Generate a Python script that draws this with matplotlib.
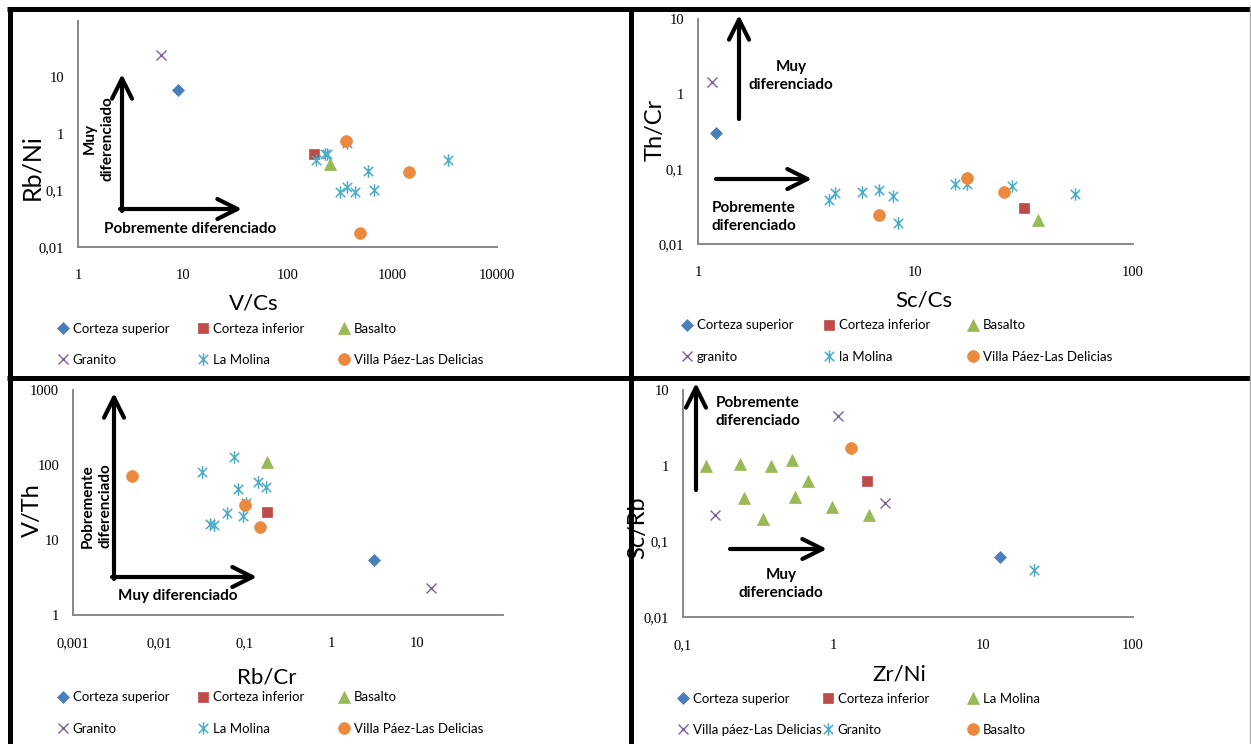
import numpy as np
import matplotlib
matplotlib.use('Agg')
from matplotlib import pyplot as plt
from matplotlib.path import Path
from matplotlib.lines import Line2D
from matplotlib.patches import FancyArrowPatch

W, H = 1251, 744

####
# Data
####
# panel 1 : V/Cs vs Rb/Ni
vcs = {'sup': [9.0], 'inf': [181], 'bas': [257], 'gra': [6.2],
       'mol': [188, 226, 240, 373, 593, 314, 373, 443, 665, 3400],
       'vil': [363, 1450, 494]}
rbni = {'sup': [6.0], 'inf': [0.45], 'bas': [0.30], 'gra': [25],
        'mol': [0.34, 0.45, 0.45, 0.69, 0.22, 0.096, 0.117, 0.096, 0.104, 0.34],
        'vil': [0.75, 0.21, 0.018]}

# panel 2 : Sc/Cs vs Th/Cr
sccs = {'sup': [1.21], 'inf': [31.7], 'bas': [36.7], 'gra': [1.16],
        'mol': [4.0, 4.27, 5.7, 6.8, 7.85, 8.3, 15.2, 17.3, 27.7, 54],
        'vil': [17.3, 25.6, 6.8]}
thcr = {'sup': [0.30], 'inf': [0.0306], 'bas': [0.021], 'gra': [1.46],
        'mol': [0.039, 0.048, 0.049, 0.052, 0.043, 0.019, 0.063, 0.063, 0.060, 0.046],
        'vil': [0.077, 0.049, 0.024]}

# panel 3 : Rb/Cr vs V/Th
rbcr = {'sup': [3.14], 'inf': [0.18], 'bas': [0.18], 'gra': [14.7],
        'mol': [0.0316, 0.074, 0.083, 0.142, 0.177, 0.102, 0.061, 0.095, 0.039, 0.044],
        'vil': [0.0048, 0.099, 0.148]}
vth = {'sup': [5.4], 'inf': [23.5], 'bas': [110], 'gra': [2.3],
       'mol': [81, 126, 48, 59, 51, 31, 22.8, 21, 16.4, 16],
       'vil': [72, 29, 15]}

# panel 4 : Zr/Ni vs Sc/Rb  (series keyed by marker style)
zrni = {'sup': [12.9], 'inf': [1.69],
        'tri': [0.143, 0.239, 0.388, 0.53, 0.686, 0.257, 0.558, 0.343, 0.99, 1.73],
        'x': [1.08, 2.21, 0.164], 'ast': [21.8], 'o': [1.32]}
scrb = {'sup': [0.062], 'inf': [0.635],
        'tri': [1.0, 1.06, 0.98, 1.19, 0.62, 0.376, 0.39, 0.20, 0.283, 0.226],
        'x': [4.5, 0.32, 0.22], 'ast': [0.0415], 'o': [1.7]}

labels_1 = ['Corteza superior', 'Corteza inferior', 'Basalto',
            'Granito', 'La Molina', 'Villa Páez-Las Delicias']
labels_2 = ['Corteza superior', 'Corteza inferior', 'Basalto',
            'granito', 'la Molina', 'Villa Páez-Las Delicias']
labels_4 = ['Corteza superior', 'Corteza inferior', 'La Molina',
            'Villa páez-Las Delicias', 'Granito', 'Basalto']

####
# Styles
####
star = Path([(0, 1), (0, -1), (-0.75, 0.75), (0.75, -0.75), (-0.75, -0.75), (0.75, 0.75)],
            [Path.MOVETO, Path.LINETO] * 3)
styles = [dict(marker='D', color='#4A7EBB', ms=6.0),
          dict(marker='s', color='#BE4B48', ms=7.8),
          dict(marker='^', color='#98B954', ms=9.0),
          dict(marker='x', color='#7D60A0', ms=7.5, mew=1.0),
          dict(marker=star, color='#4BACC6', ms=9, mew=1.1),
          dict(marker='o', color='#EB8A3E', ms=8.5)]

plt.rcParams['font.family'] = ['Lato', 'DejaVu Sans']
tick_font = dict(family='Liberation Serif', size=10.5)

fig = plt.figure(figsize=(W / 100, H / 100), dpi=100)


def px(x, y):
    return (x / W, 1 - y / H)


def make_axes(l, r, t, b):
    ax = fig.add_axes([l / W, 1 - b / H, (r - l) / W, (b - t) / H])
    ax.set_xscale('log')
    ax.set_yscale('log')
    for s in ['top', 'right']:
        ax.spines[s].set_visible(False)
    for s in ['left', 'bottom']:
        ax.spines[s].set_color('#888888')
        ax.spines[s].set_linewidth(1.4)
    ax.tick_params(length=0, which='both')
    ax.tick_params(axis='x', pad=16)
    ax.tick_params(axis='y', pad=10)
    ax.minorticks_off()
    ax.patch.set_alpha(0)
    return ax


def set_ticks(ax, xt, xl, yt, yl):
    ax.set_xticks(xt)
    ax.set_xticklabels(xl, fontdict=tick_font)
    ax.set_yticks(yt)
    ax.set_yticklabels(yl, fontdict=tick_font)
    ax.minorticks_off()


def plot_series(ax, xs, ys, keys):
    handles = []
    for k, st in zip(keys, styles):
        h, = ax.plot(xs[k], ys[k], linestyle='none', clip_on=False,
                     marker=st['marker'], color=st['color'], markersize=st['ms'],
                     markeredgewidth=st.get('mew', 0.5), markeredgecolor=st['color'])
        handles.append(h)
    return handles


def legend(handles, labels, cols, rows):
    ymid = (rows[0] + rows[1]) / 2
    for c in range(3):
        fig.legend(handles=[handles[c], handles[c + 3]], labels=[labels[c], labels[c + 3]],
                   loc='center left', bbox_to_anchor=px(cols[c] - 5.5, ymid),
                   frameon=False, handlelength=0.85, handletextpad=0.3,
                   borderpad=0, borderaxespad=0, labelspacing=1.45, fontsize=9.5)


def arrow(p0, p1):
    fig.add_artist(FancyArrowPatch(px(*p0), px(*p1), transform=fig.transFigure,
                                   arrowstyle='->,head_length=0.4,head_width=0.2',
                                   mutation_scale=36, lw=3.0, color='black',
                                   shrinkA=0, shrinkB=0))


def note(x, y, s, **kw):
    fig.text(*px(x, y), s, fontsize=11, fontweight='bold', va='center',
             linespacing=1.35, **kw)


keys = ['sup', 'inf', 'bas', 'gra', 'mol', 'vil']

# ---- panel 1
ax1 = make_axes(78, 497, 21, 247)
h1 = plot_series(ax1, vcs, rbni, keys)
ax1.set_xlim(1, 10000)
ax1.set_ylim(0.01, 100)
set_ticks(ax1, [1, 10, 100, 1000, 10000], ['1', '10', '100', '1000', '10000'],
          [0.01, 0.1, 1, 10], ['0,01', '0,1', '1', '10'])
ax1.set_xlabel('V/Cs', fontsize=16, va='center')
ax1.xaxis.set_label_coords(0.42, -0.25)
ax1.set_ylabel('Rb/Ni', fontsize=18, va='center')
ax1.yaxis.set_label_coords(-0.11, 0.354)
legend(h1, labels_1, [63, 203, 344], [329, 360])
arrow((122, 211), (122, 74))
arrow((120, 209), (242, 209))
note(99, 139, 'Muy\ndiferenciado', rotation=90, ha='center', multialignment='center')
note(190, 229, 'Pobremente diferenciado', ha='center')

# ---- panel 2
ax2 = make_axes(698, 1133, 19, 244)
h2 = plot_series(ax2, sccs, thcr, keys)
ax2.set_xlim(1, 100)
ax2.set_ylim(0.01, 10)
set_ticks(ax2, [1, 10, 100], ['1', '10', '100'],
          [0.01, 0.1, 1, 10], ['0,01', '0,1', '1', '10'])
ax2.set_xlabel('Sc/Cs', fontsize=16, va='center')
ax2.xaxis.set_label_coords(0.52, -0.249)
ax2.set_ylabel('Th/Cr', fontsize=17, va='center')
ax2.yaxis.set_label_coords(-0.099, 0.507)
legend(h2, labels_2, [687, 829, 973], [325, 357])
arrow((739, 119), (739, 15))
arrow((716, 179), (812, 179))
note(791, 76, 'Muy\ndiferenciado', ha='center', multialignment='center')
note(712, 217, 'Pobremente\ndiferenciado', ha='left')

# ---- panel 3
ax3 = make_axes(73, 503, 390, 615)
h3 = plot_series(ax3, rbcr, vth, keys)
ax3.set_xlim(0.001, 100)
ax3.set_ylim(1, 1000)
set_ticks(ax3, [0.001, 0.01, 0.1, 1, 10], ['0,001', '0,01', '0,1', '1', '10'],
          [1, 10, 100, 1000], ['1', '10', '100', '1000'])
ax3.set_xlabel('Rb/Cr', fontsize=16, va='center')
ax3.xaxis.set_label_coords(0.45, -0.28)
ax3.set_ylabel('V/Th', fontsize=17, va='center')
ax3.yaxis.set_label_coords(-0.095, 0.467)
legend(h3, labels_1, [63, 203, 344], [698, 728])
arrow((114, 579), (114, 393))
arrow((112, 577), (257, 577))
note(97, 506, 'Pobremente\ndiferenciado', rotation=90, ha='center', multialignment='center')
note(178, 596, 'Muy diferenciado', ha='center')

# ---- panel 4
ax4 = make_axes(683, 1133, 390, 617)
h4 = plot_series(ax4, zrni, scrb, ['sup', 'inf', 'tri', 'x', 'ast', 'o'])
ax4.set_xlim(0.1, 100)
ax4.set_ylim(0.01, 10)
set_ticks(ax4, [0.1, 1, 10, 100], ['0,1', '1', '10', '100'],
          [0.01, 0.1, 1, 10], ['0,01', '0,1', '1', '10'])
ax4.set_xlabel('Zr/Ni', fontsize=16, va='center')
ax4.xaxis.set_label_coords(0.48, -0.255)
ax4.set_ylabel('Sc/Rb', fontsize=17, va='center')
ax4.yaxis.set_label_coords(-0.1, 0.392)
legend(h4, labels_4, [683, 828, 973], [699, 730])
arrow((696, 490), (696, 383))
arrow((730, 549), (827, 549))
note(716, 412, 'Pobremente\ndiferenciado', ha='left')
note(781, 584, 'Muy\ndiferenciado', ha='center', multialignment='center')

####
# Panel frames
####
frame = dict(color='black', lw=3.6, transform=fig.transFigure, solid_capstyle='butt')
fig.add_artist(Line2D(*zip(px(7, 9), px(1250, 9)), **frame))
fig.add_artist(Line2D(*zip(px(9.5, 7), px(9.5, 744)), **frame))
fig.add_artist(Line2D(*zip(px(631, 7), px(631, 744)), **frame))
fig.add_artist(Line2D(*zip(px(7, 378), px(1250, 378)), **frame))
fig.add_artist(Line2D(*zip(px(1250, 6), px(1250, 744)), color='#aaaaaa', lw=1,
                      transform=fig.transFigure))

fig.savefig('out.png', dpi=100)
